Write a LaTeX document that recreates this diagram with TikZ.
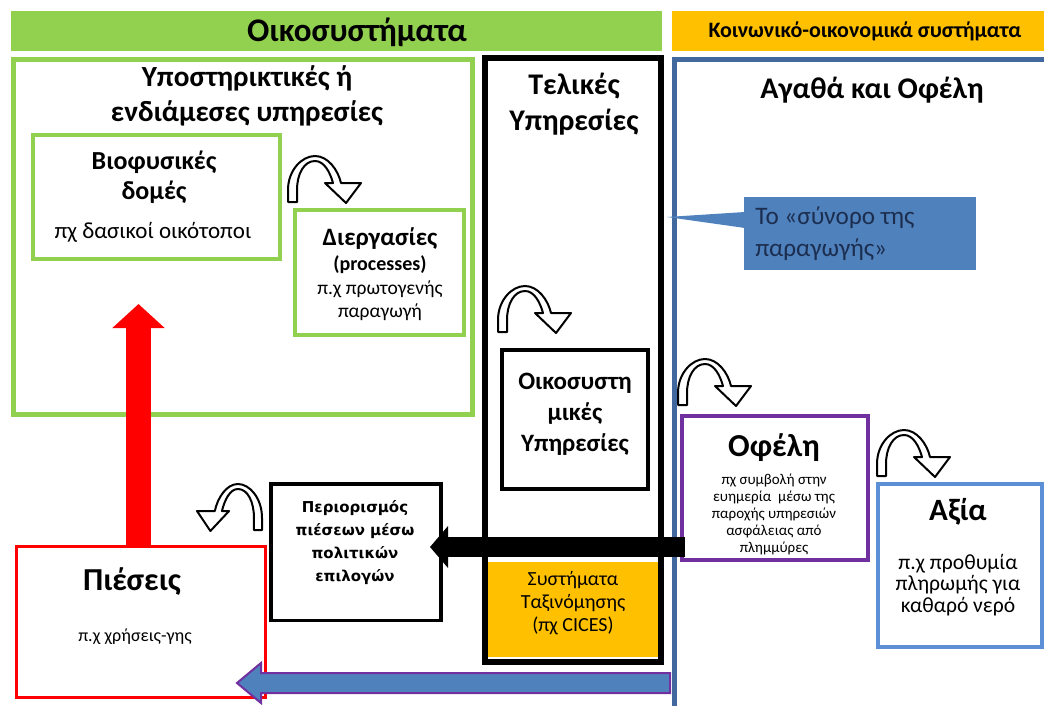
\documentclass[tikz,border=0pt]{standalone}
\usepackage{fontspec}
\setmainfont{Carlito}
\newfontfamily\dvs{DejaVu Sans}
\usetikzlibrary{arrows.meta,calc,fit}
\definecolor{ecogreen}{HTML}{92D050}
\definecolor{socorange}{HTML}{FFC000}
\definecolor{bigblue}{HTML}{41699F}
\definecolor{calfill}{HTML}{4F81BD}
\definecolor{caltext}{HTML}{1C2E4F}
\definecolor{axiablue}{HTML}{5C8FD6}
\definecolor{ofpurple}{HTML}{7030A0}
\definecolor{pred}{HTML}{FF0000}
\newcommand\myfs[2]{\fontsize{#1}{#2}\selectfont}
\tikzset{
  fbox/.style={inner sep=0pt, outer sep=0pt},
  txt/.style={inner sep=0pt, align=center, text=black},
  curvarrow/.pic={
    \draw[black, line width=1pt, fill=white, line join=round]
      (0,0) -- (0,-12) .. controls (0,-32) and (14,-46) .. (27,-46)
      .. controls (40,-46) and (50,-32) .. (53,-19)
      -- (73,-19) -- (58,1) -- (37,-19) -- (45,-19)
      .. controls (42,-30) and (36,-41) .. (27,-41)
      .. controls (16,-41) and (9,-28) .. (9,-12) -- (9,0) -- cycle;
  }
}
\begin{document}
\begin{tikzpicture}[x=0.5pt,y=-0.5pt]
\useasboundingbox (0,0) rectangle (1044,706);
% header bars
\node[fbox, fill=ecogreen, fit={(11,11) (662,51)}] (ecobar) {};
\node[fbox, fill=socorange, fit={(672,11) (1044,51)}] (socbar) {};
\node[txt, font=\myfs{16.5}{19}\bfseries] (ecotitle) at (357,32) {Οικοσυστήματα};
\node[txt, font=\myfs{11}{13}\bfseries] (soctitle) at (865,31) {Κοινωνικό-οικονομικά συστήματα};
% big boxes
\node[fbox, draw=ecogreen, line width=2.5pt, fit={(13.5,59.5) (472,414)}] (support) {};
\node[fbox, draw=black, line width=3pt, fit={(484.5,58) (661,661.5)}] (final) {};
\draw[bigblue, line width=2.5pt] (1046,59.5) -- (674.5,59.5) -- (674.5,708);
\coordinate (goodsbox) at (674.5,59.5);
% inner boxes
\node[fbox, draw=ecogreen, line width=2pt, fit={(33,135) (280,259)}] (bio) {};
\node[fbox, draw=ecogreen, line width=2pt, fit={(295,210) (464,335)}] (proc) {};
\node[fbox, draw=black, line width=2pt, fit={(502,350) (648,489)}] (ess) {};
\node[fbox, fill=socorange, fit={(488,562) (658,657)}] (cices) {};
\node[fbox, draw=ofpurple, line width=2pt, fit={(682,415.5) (868,559.5)}] (ofeli) {};
\node[fbox, draw=axiablue, line width=2pt, fit={(878,484) (1041.5,647)}] (axia) {};
\node[fbox, draw=pred, line width=1.5pt, fit={(16.5,546.5) (265,697.5)}] (pies) {};
\node[fbox, draw=black, line width=1.75pt, fit={(271,484) (441,620.5)}] (perio) {};
% callout
\fill[calfill] (745,212) -- (667,217) -- (745,228) -- cycle;
\node[fbox, fill=calfill, fit={(744,197) (976,270)}] (callout) {};
% curved arrows
\pic (c1) at (288,202) {curvarrow};
\pic (c2) at (498,332) {curvarrow};
\pic (c3) at (678,405) {curvarrow};
\pic (c4) at (877,476) {curvarrow};
\pic[xscale=-0.89] (c5) at (262,530) {curvarrow};
% block arrows
\coordinate (redtip) at (138.5,304);
\draw[pred, line width=12.5pt, -{Triangle[length=12pt,width=25.5pt]}] (pies.north -| redtip) -- (redtip);
\coordinate (blktip) at (430,547);
\draw[black, line width=10pt, -{Triangle[length=9pt,width=20.5pt]}] ($(ofeli.west |- blktip)+(3,0)$) -- (blktip);
\coordinate (bluetail) at (670,683);
\coordinate (bluetip) at (237,683);
\draw[draw=ofpurple, fill=calfill, line width=1pt, line join=miter]
  ($(bluetail)+(0,-10)$) -- ($(bluetip)+(24,-10)$) -- ($(bluetip)+(24,-20)$) -- (bluetip)
  -- ($(bluetip)+(24,20)$) -- ($(bluetip)+(24,10)$) -- ($(bluetail)+(0,10)$) -- cycle;
% texts
\node[txt, font=\myfs{14.6}{17.5}\bfseries] (supporttitle) at (247,95.5) {Υποστηρικτικές ή\\ενδιάμεσες υπηρεσίες};
\node[txt, font=\myfs{13}{15}\bfseries] (biotitle) at (154,177) {Βιοφυσικές\\δομές};
\node[txt, font=\myfs{11.5}{13}] (bioex) at (153,232) {πχ δασικοί οικότοποι};
\node[txt, font=\myfs{12.5}{14}\bfseries] (proctitle) at (380,239) {Διεργασίες};
\node[txt, font=\myfs{10}{12}\bfseries] (procen) at (380,265) {(processes)};
\node[txt, font=\myfs{9.75}{11.5}] (procex) at (380,300.5) {π.χ πρωτογενής\\παραγωγή};
\node[txt, font=\myfs{15}{18}\bfseries] (finaltitle) at (574,104) {Τελικές\\Υπηρεσίες};
\node[txt, font=\myfs{15}{18}\bfseries] (goodstitle) at (872,90) {Αγαθά και Οφέλη};
\node[inner sep=0pt, align=left, text=caltext, anchor=west, font=\myfs{12.6}{16}] (caltxt) at (755,234) {Το «σύνορο της\\παραγωγής»};
\node[txt, font=\myfs{12.5}{15.5}\bfseries] (esstxt) at (575,414) {Οικοσυστη\\μικές\\Υπηρεσίες};
\node[txt, font=\myfs{10}{11.5}] (cicestxt) at (573,603) {Συστήματα\\Ταξινόμησης\\(πχ CICES)};
\node[txt, font=\myfs{16}{18}\bfseries] (ofelititle) at (774,448) {Οφέλη};
\node[txt, font=\myfs{7.5}{8.6}] (ofelitxt) at (774,514.5) {πχ συμβολή στην\\ευημερία\ \ μέσω της\\παροχής υπηρεσιών\\ασφάλειας από\\πλημμύρες};
\node[txt, font=\myfs{15.5}{18}\bfseries] (axiatitle) at (958,512) {Αξία};
\node[txt, font=\myfs{10.8}{10.6}] (axiatxt) at (958,585) {π.χ προθυμία\\πληρωμής για\\καθαρό νερό};
\node[txt, font=\myfs{16}{18}\bfseries] (piestitle) at (132,582) {Πιέσεις};
\node[txt, font=\myfs{9}{11}] (piestxt) at (135,637) {π.χ χρήσεις-γης};
\node[txt, font=\dvs\bfseries\myfs{7.5}{11.5}] (periotxt) at (355,542.5) {Περιορισμός\\πιέσεων μέσω\\πολιτικών\\επιλογών};
\end{tikzpicture}
\end{document}
